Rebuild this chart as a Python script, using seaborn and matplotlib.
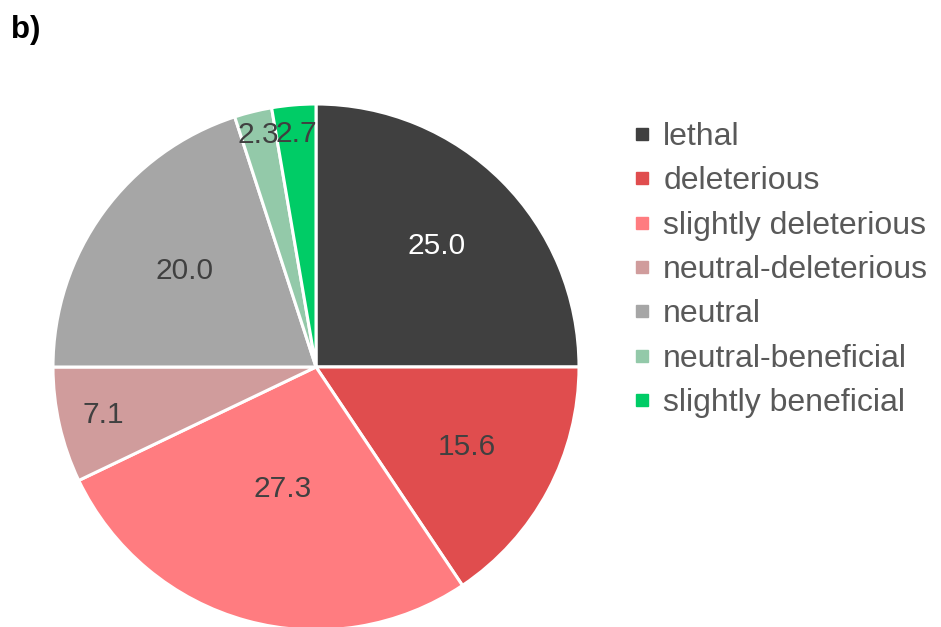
import matplotlib
matplotlib.use("Agg")
import matplotlib.pyplot as plt
from matplotlib.lines import Line2D
import numpy as np
import seaborn as sns

categories = ["lethal", "deleterious", "slightly deleterious", "neutral-deleterious",
              "neutral", "neutral-beneficial", "slightly beneficial"]
values = [25.0, 15.6, 27.3, 7.1, 20.0, 2.3, 2.7]
colors = ["#404040", "#E04D4E", "#FF7C80", "#D09C9C", "#A6A6A6", "#93C9A9", "#00CC66"]
label_colors = ["white", "#404040", "#404040", "#404040", "#404040", "#404040", "#404040"]
# radial placement of each value label (fraction of radius)
label_radius = [0.65, 0.65, 0.48, 0.83, 0.62, 0.91, 0.89]

sns.set_theme(style="white")
plt.rcParams["font.family"] = ["Liberation Sans", "DejaVu Sans"]

fig = plt.figure(figsize=(9.41, 6.27), dpi=100)
R = 263
cx, cy = 316, 367
W, H = 941, 627
ax = fig.add_axes([(cx - R) / W, (H - cy - R) / H, 2 * R / W, 2 * R / H])

wedges, _ = ax.pie(values, colors=colors, startangle=90, counterclock=False,
                   radius=1.0, wedgeprops=dict(edgecolor="white", linewidth=2.2))
ax.set_xlim(-1, 1)
ax.set_ylim(-1, 1)
ax.set_aspect("equal")
ax.axis("off")

total = sum(values)
start = 0.0
for v, lc, rf in zip(values, label_colors, label_radius):
    mid = start + v / 2
    ang = np.deg2rad(90 - 360 * mid / total)
    ax.text(rf * np.cos(ang), rf * np.sin(ang), f"{v:.1f}", ha="center",
            va="center", fontsize=21.5, color=lc)
    start += v

fig.text(11 / W, 1 - 30 / H, "b)", fontsize=22.5, fontweight="bold",
         ha="left", va="center", color="black")

handles = [Line2D([0], [0], marker="s", linestyle="none", markersize=8,
                  markerfacecolor=c, markeredgecolor=c) for c in colors]
leg = fig.legend(handles, categories, loc="upper left",
                 bbox_to_anchor=(632 / W, 1 - 122 / H), frameon=False,
                 fontsize=23, labelspacing=0.45, handletextpad=0.38,
                 handlelength=0.6, borderaxespad=0, borderpad=0)
for t in leg.get_texts():
    t.set_color("#595959")

fig.savefig("out.png", dpi=100, facecolor="white")
